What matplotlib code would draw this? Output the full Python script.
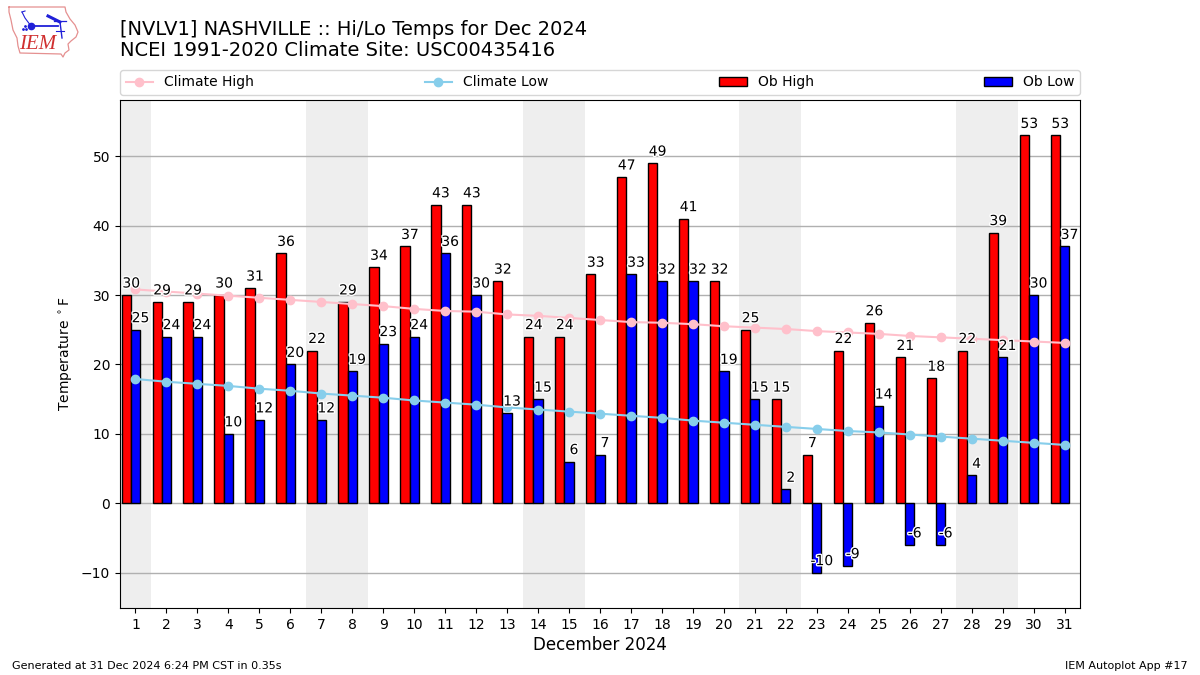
"""NASHVILLE daily hi/lo temperatures, December 2024."""

import matplotlib

matplotlib.use("Agg")
import matplotlib.patheffects as pe
import matplotlib.pyplot as plt
import numpy as np

days = list(range(1, 32))
ob_high = [30, 29, 29, 30, 31, 36, 22, 29, 34, 37, 43, 43, 32, 24, 24, 33,
           47, 49, 41, 32, 25, 15, 7, 22, 26, 21, 18, 22, 39, 53, 53]
ob_low = [25, 24, 24, 10, 12, 20, 12, 19, 23, 24, 36, 30, 13, 15, 6, 7,
          33, 32, 32, 19, 15, 2, -10, -9, 14, -6, -6, 4, 21, 30, 37]
climate_high = [30.8, 30.5, 30.2, 29.9, 29.6, 29.3, 29.0, 28.7, 28.4, 28.0,
                27.7, 27.6, 27.2, 27.0, 26.7, 26.4, 26.1, 26.0, 25.8, 25.5,
                25.3, 25.1, 24.8, 24.6, 24.4, 24.1, 23.9, 23.7, 23.5, 23.3, 23.1]
climate_low = [17.9, 17.5, 17.2, 16.9, 16.5, 16.2, 15.8, 15.5, 15.2, 14.8,
               14.5, 14.2, 13.8, 13.5, 13.2, 12.9, 12.6, 12.3, 11.9, 11.6,
               11.3, 11.0, 10.7, 10.4, 10.2, 9.9, 9.6, 9.3, 9.0, 8.7, 8.4]
weekend_spans = [(0.5, 1.5), (6.5, 8.5), (13.5, 15.5), (20.5, 22.5), (27.5, 29.5)]

WIDTH, HEIGHT = 1200, 675


def px_rect(left, top, right, bottom):
    return [left / WIDTH, 1 - bottom / HEIGHT, (right - left) / WIDTH, (bottom - top) / HEIGHT]


def draw_logo(fig):
    # rough redraw of the IEM logo, in pixel coordinates of the figure
    lax = fig.add_axes([0, 1 - 64 / HEIGHT, 90 / WIDTH, 64 / HEIGHT])
    lax.set_xlim(0, 90)
    lax.set_ylim(64, 0)
    lax.axis("off")
    outline = [(9, 7), (65, 7), (66, 12), (70, 19), (75, 25), (78, 32), (76, 37),
               (71, 41), (68, 44), (69, 50), (65, 53), (63, 57), (61, 54), (20, 53),
               (18, 46), (17, 38), (13, 30), (11, 20), (9, 12), (9, 7)]
    xs, ys = zip(*outline)
    lax.plot(xs, ys, color="#e59090", lw=0.9)
    blue = "#2020d8"
    lax.plot([31, 58], [26, 26], color=blue, lw=1.3)
    lax.plot([31, 25, 22], [26, 18, 12], color=blue, lw=0.8)
    lax.plot([22, 25], [12, 11], color=blue, lw=0.8)
    lax.plot([48, 56, 60], [16, 20, 22], color=blue, lw=2.2)
    lax.plot([54, 66], [21, 21], color=blue, lw=0.9)
    lax.plot([60, 61, 62], [22, 30, 38], color=blue, lw=1.0)
    lax.plot([56, 64], [31, 31], color=blue, lw=0.8)
    lax.plot([31], [26], "o", color=blue, ms=4.5)
    lax.plot([23, 26, 25], [29, 29, 26], ".", color=blue, ms=2)
    lax.text(37.5, 44.5, "IEM", color="#d03030", fontsize=15, family="Liberation Serif",
             style="italic", ha="center", va="center")


fig = plt.figure(figsize=(12, 6.75), dpi=100)
ax = fig.add_axes(px_rect(120, 100, 1080, 608))

x = np.array(days)
for start, end in weekend_spans:
    ax.axvspan(start, end, color="#eeeeee", lw=0, zorder=0)

bars_high = ax.bar(x - 0.3, ob_high, 0.3, color="red", edgecolor="black", label="Ob High", zorder=2)
bars_low = ax.bar(x, ob_low, 0.3, color="blue", edgecolor="black", label="Ob Low", zorder=2)
line_high, = ax.plot(x, climate_high, marker="o", color="pink", label="Climate High", zorder=3)
line_low, = ax.plot(x, climate_low, marker="o", color="skyblue", label="Climate Low", zorder=3)

halo = [pe.withStroke(linewidth=2, foreground="white")]
for day, high, low in zip(days, ob_high, ob_low):
    ax.text(day - 0.14, high + 0.65, str(high), ha="center", va="bottom", fontsize=10,
            path_effects=halo, zorder=4)
    ax.text(day + 0.16, low + 0.65, str(low), ha="center", va="bottom", fontsize=10,
            path_effects=halo, zorder=4)

ax.grid(axis="y", color="#b0b0b0", lw=1.0)
ax.set_axisbelow("line")
ax.set_xlim(0.5, 31.5)
ax.set_ylim(-15.1, 58.1)
ax.set_xticks(days)
ax.set_xlabel("December 2024", fontsize=12, labelpad=3)
ax.set_ylabel(r"Temperature $^\circ$F")

ax.legend(
    [line_high, line_low, bars_high, bars_low],
    ["Climate High", "Climate Low", "Ob High", "Ob Low"],
    loc="lower left",
    bbox_to_anchor=(0, 1.01, 1, 0.05),
    mode="expand",
    ncol=4,
    borderaxespad=0,
)

fig.text(120 / WIDTH, 1 - 29.5 / HEIGHT, "[NVLV1] NASHVILLE :: Hi/Lo Temps for Dec 2024",
         fontsize=14, va="center")
fig.text(120 / WIDTH, 1 - 51 / HEIGHT, "NCEI 1991-2020 Climate Site: USC00435416",
         fontsize=14, va="center")
fig.text(12 / WIDTH, 1 - 666 / HEIGHT, "Generated at 31 Dec 2024 6:24 PM CST in 0.35s",
         fontsize=8, va="center")
fig.text(1188 / WIDTH, 1 - 666 / HEIGHT, "IEM Autoplot App #17", fontsize=8, va="center", ha="right")

draw_logo(fig)

fig.savefig("out.png", dpi=100)
plt.close(fig)
